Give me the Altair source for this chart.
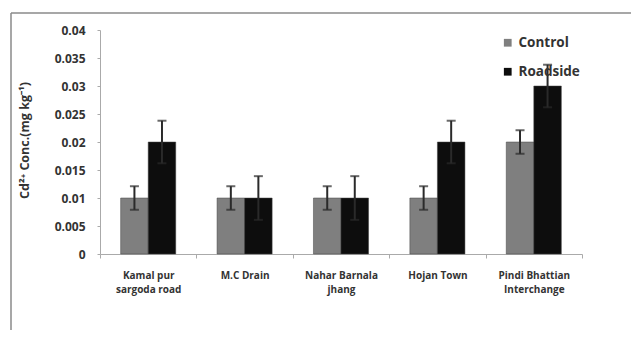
import altair as alt
import pandas as pd

sites = ["Kamal pur\nsargoda road", "M.C Drain", "Nahar Barnala\njhang", "Hojan Town", "Pindi Bhattian\nInterchange"]
groups = ["Control", "Roadside"]
control = [0.01, 0.01, 0.01, 0.01, 0.02]
roadside = [0.02, 0.01, 0.01, 0.02, 0.03]
control_err = [0.0021, 0.0021, 0.0021, 0.0021, 0.0021]
roadside_err = [0.0038, 0.0039, 0.0039, 0.0038, 0.0038]
y_ticks = [0, 0.005, 0.01, 0.015, 0.02, 0.025, 0.03, 0.035, 0.04]

rows = []
for i, s in enumerate(sites):
    rows.append({"site": s, "group": "Control", "value": control[i],
                 "lo": control[i] - control_err[i], "hi": control[i] + control_err[i]})
    rows.append({"site": s, "group": "Roadside", "value": roadside[i],
                 "lo": roadside[i] - roadside_err[i], "hi": roadside[i] + roadside_err[i]})
df = pd.DataFrame(rows)

FONT = "Open Sans"

x = alt.X("site:N", sort=sites, title=None,
          scale=alt.Scale(paddingInner=0, paddingOuter=0),
          axis=alt.Axis(labelAngle=0, labelExpr="split(datum.label, '\\n')",
                        labelFont=FONT, labelFontWeight="bold", labelFontSize=10,
                        labelColor="#333", labelPadding=12, labelLineHeight=14.5,
                        tickBand="extent", tickSize=4, tickColor="#aaa",
                        domainColor="#aaa", labelBaseline="top", labelOverlap=False))
xo = alt.XOffset("group:N", sort=groups,
                 scale=alt.Scale(paddingInner=0, paddingOuter=0.75))
y_scale = alt.Scale(domain=[0, 0.04], nice=False)
y_axis = alt.Axis(values=y_ticks, tickCount=9,
                  format="~g", grid=False, tickSize=3, tickColor="#aaa",
                  domainColor="#aaa", labelFont=FONT, labelFontWeight="bold",
                  labelFontSize=12, labelColor="#333", labelPadding=12,
                  labelOverlap=False,
                  title="Cd²⁺ Conc.(mg kg⁻¹)", titleFont=FONT,
                  titleFontWeight="bold", titleFontSize=12.5, titleColor="#333",
                  titleAngle=-90, titleX=-76, titleY=110,
                  titleAlign="center", titleBaseline="middle")

bars = alt.Chart(df).mark_bar(stroke="#444", strokeWidth=0.5).encode(
    x=x, xOffset=xo, y=alt.Y("value:Q", scale=y_scale, axis=y_axis),
    color=alt.Color("group:N", sort=groups,
                    scale=alt.Scale(domain=groups, range=["#7f7f7f", "#0d0d0d"]),
                    legend=alt.Legend(title=None, orient="none", legendX=401, legendY=6,
                                      symbolType="square", symbolSize=60,
                                      symbolStrokeWidth=0, labelFont=FONT,
                                      labelFontWeight="bold", labelFontSize=13.5,
                                      labelColor="#333", rowPadding=14,
                                      labelOffset=4)),
)

rules = alt.Chart(df).mark_rule(color="#2a2a2a", strokeWidth=2).encode(
    x=x, xOffset=xo, y=alt.Y("lo:Q", scale=y_scale, axis=y_axis), y2="hi:Q")
caps_hi = alt.Chart(df).mark_tick(color="#2a2a2a", thickness=2, size=9).encode(
    x=x, xOffset=xo, y=alt.Y("hi:Q", scale=y_scale, axis=y_axis))
caps_lo = alt.Chart(df).mark_tick(color="#2a2a2a", thickness=2, size=9).encode(
    x=x, xOffset=xo, y=alt.Y("lo:Q", scale=y_scale, axis=y_axis))

frame = pd.DataFrame({"a": [0]})
top_line = alt.Chart(frame).mark_rule(color="#8a8a8a", strokeWidth=1.5, clip=False).encode(
    x=alt.value(-89), x2=alt.value(560), y=alt.value(-17))
left_line = alt.Chart(frame).mark_rule(color="#8a8a8a", strokeWidth=1.5, clip=False).encode(
    x=alt.value(-89), y=alt.value(-17), y2=alt.value(340))

chart = alt.layer(bars, rules, caps_hi, caps_lo, top_line, left_line).properties(
    width=482, height=224,
    autosize=alt.AutoSizeParams(type="none"),
    padding={"left": 92, "top": 22, "right": 49, "bottom": 76},
    background="white",
).configure_view(stroke=None)

chart.save("out.html", embed_options={"renderer": "svg", "actions": False})
